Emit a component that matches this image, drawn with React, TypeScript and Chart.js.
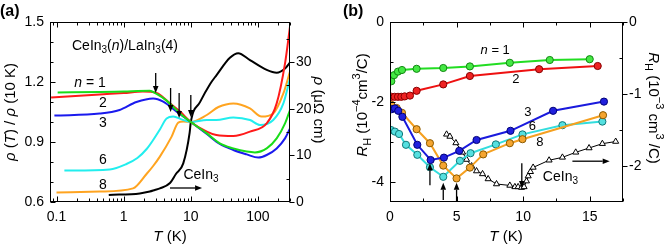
import React, { useEffect, useRef } from "react";
import { Chart, registerables } from "chart.js";
Chart.register(...registerables);

const FONT = "'Liberation Sans', Arial, Helvetica, sans-serif";
const TF = 14;

// ---------- Panel (a): rho(T)/rho(10K) vs T (log) ----------
const A_T_n1 = [0.104, 0.44, 1.0, 2.45, 3.0, 4.36, 6.9, 10, 17.3, 27, 43, 68, 90, 135, 190, 253, 300];
const A_R_n1 = [1.148, 1.15, 1.153, 1.156, 1.143, 1.107, 1.043, 1.0, 0.943, 0.893, 0.868, 0.852, 0.848, 0.868, 0.918, 0.993, 1.06];
const A_T_n2 = [0.083, 0.44, 1.0, 1.94, 3.09, 4.88, 6.9, 10, 17.3, 24, 43, 76, 135, 190, 253, 300];
const A_R_n2 = [1.122, 1.138, 1.145, 1.152, 1.145, 1.093, 1.052, 1.0, 0.952, 0.935, 0.93, 0.952, 0.993, 1.093, 1.293, 1.477];
const A_T_n3 = [0.093, 0.44, 0.87, 1.55, 2.75, 3.88, 6.15, 10, 17.3, 27, 43, 68, 101, 135, 190, 253, 300];
const A_R_n3 = [1.032, 1.042, 1.06, 1.1, 1.118, 1.102, 1.052, 1.0, 0.94, 0.89, 0.86, 0.838, 0.822, 0.835, 0.868, 0.918, 0.968];
const A_T_n6 = [0.131, 0.62, 1.1, 1.6, 2.2, 2.75, 3.5, 4.36, 5.47, 7.3, 10, 17.3, 24, 43, 76, 107, 169, 239, 300];
const A_R_n6 = [0.757, 0.763, 0.79, 0.82, 0.865, 0.91, 0.965, 1.018, 1.027, 1.013, 1.0, 1.01, 1.01, 1.023, 1.01, 0.985, 1.01, 1.093, 1.218];
const A_T_n8 = [0.1, 0.44, 1.38, 2.19, 2.75, 3.46, 5.18, 6.5, 7.72, 10, 17.3, 25.8, 43, 76, 113, 169, 239, 300];
const A_R_n8 = [0.647, 0.652, 0.668, 0.74, 0.78, 0.827, 0.927, 0.997, 1.002, 1.0, 1.035, 1.075, 1.093, 1.068, 1.027, 1.043, 1.143, 1.252];
// CeIn3 in micro-ohm cm (right axis)
const A_T_ce = [0.6, 1.74, 2.45, 2.91, 3.46, 4.9, 6.0, 7.72, 9.6, 10, 13.7, 19.4, 24.2, 38.2, 50.8, 76, 135, 190, 253, 300];
const A_R_ce = [1.5, 1.84, 2.23, 2.57, 2.91, 4.07, 6.0, 8.27, 14.8, 17.14, 21.4, 25.3, 27.2, 30.9, 31.9, 30.4, 28.3, 27.7, 28.6, 29.9];

const A_XTICKS = [0.1, 1, 10, 100];
const A_YTICKS = [0.6, 0.9, 1.2, 1.5];
const A_YTICKS_MINOR = [0.7, 0.8, 1.0, 1.1, 1.3, 1.4];
const A_RTICKS = [0, 10, 20, 30];
const A_RTICKS_MINOR = [5, 15, 25, 35];
// arrows marking T_max: T, start, end (rho/rho10K)
const A_ARROW_T = [3.0, 5.0, 6.7, 10];
const A_ARROW_FROM = [1.245, 1.17, 1.145, 1.135];
const A_ARROW_TO = [1.145, 1.05, 1.02, 1.025];

// ---------- Panel (b): R_H vs T ----------
const B_T_n1 = [0.1, 0.3, 0.6, 0.9, 2, 4, 6, 9, 12, 15];
const B_R_n1 = [-1.48, -1.33, -1.24, -1.2, -1.17, -1.15, -1.11, -1.02, -0.95, -0.93];
const B_T_n2 = [0.1, 0.35, 0.6, 0.85, 1.1, 1.5, 2, 4, 6, 11.2, 15.6];
const B_R_n2 = [-1.87, -1.87, -1.87, -1.87, -1.86, -1.84, -1.72, -1.56, -1.35, -1.18, -1.1];
const B_T_n3 = [0.13, 0.37, 0.62, 0.93, 2.05, 3.05, 4.05, 5.2, 6.5, 9.05, 12.25, 16.07];
const B_R_n3 = [-2.18, -2.16, -2.22, -2.37, -3.07, -3.45, -3.39, -3.22, -2.95, -2.72, -2.22, -1.99];
const B_T_n6 = [0.08, 0.37, 0.68, 1.2, 2.05, 3, 4, 5.25, 6.05, 7.95, 9.95, 12.95, 15.95];
const B_R_n6 = [-2.7, -2.74, -2.8, -3.07, -3.32, -3.63, -3.87, -3.47, -3.28, -3.06, -2.81, -2.58, -2.49];
const B_T_n8 = [0.1, 0.5, 0.9, 2, 3, 4, 5, 6, 7, 9, 9.95, 16];
const B_R_n8 = [-2.07, -2.15, -2.27, -2.68, -3.03, -3.59, -3.91, -3.64, -3.31, -3.03, -2.93, -2.33];
// CeIn3 on right axis (10^-3 cm^3/C)
const B_T_ce = [4.25, 4.5, 4.95, 5.45, 5.75, 6.13, 6.5, 6.95, 7.37, 8.0, 9.0, 9.38, 9.62, 9.88, 10.07, 10.25, 10.38, 10.55, 10.75, 11.95, 12.95, 13.95, 14.95, 15.95, 16.95];
const B_R_ce = [-1.56, -1.59, -1.68, -1.81, -1.91, -2.0, -2.07, -2.11, -2.18, -2.25, -2.27, -2.29, -2.29, -2.3, -2.29, -2.21, -2.14, -2.08, -2.02, -1.92, -1.88, -1.81, -1.75, -1.69, -1.66];

const B_XTICKS = [0, 5, 10, 15];
const B_XTICKS_MINOR = [2.5, 7.5, 12.5, 17.5];
const B_YTICKS = [0, -2, -4];
const B_YTICKS_MINOR = [-1, -3];
const B_RTICKS = [0, -1, -2];
const B_RTICKS_MINOR = [-0.5, -1.5];
const B_UP_T = [3, 4, 5];
const B_UP_FROM = [-4.08, -4.45, -4.5];
const B_UP_TO = [-3.53, -4.02, -4.02];

type Seg = { t: string; it?: boolean; sub?: boolean; sup?: boolean; b?: boolean };

function segFont(s: Seg, size: number) {
  const sz = s.sub || s.sup ? Math.round(size * 0.72) : size;
  return `${s.it ? "italic " : ""}${s.b ? "bold " : ""}${sz}px ${FONT}`;
}
function drawRich(ctx: CanvasRenderingContext2D, segs: Seg[], x: number, y: number, size: number, align = "center", rot = 0) {
  ctx.save();
  ctx.translate(x, y);
  ctx.rotate(rot);
  let w = 0;
  for (const s of segs) {
    ctx.font = segFont(s, size);
    w += ctx.measureText(s.t).width;
  }
  let cx = align === "center" ? -w / 2 : align === "right" ? -w : 0;
  ctx.textBaseline = "middle";
  ctx.textAlign = "left";
  ctx.fillStyle = "#000";
  for (const s of segs) {
    ctx.font = segFont(s, size);
    const dy = s.sub ? size * 0.3 : s.sup ? -size * 0.38 : 0;
    ctx.fillText(s.t, cx, dy);
    cx += ctx.measureText(s.t).width;
  }
  ctx.restore();
}
function drawArrow(ctx: CanvasRenderingContext2D, x0: number, y0: number, x1: number, y1: number) {
  const ang = Math.atan2(y1 - y0, x1 - x0);
  const hl = 7, hw = 2.8;
  const c = Math.cos(ang), s = Math.sin(ang);
  ctx.save();
  ctx.strokeStyle = "#000";
  ctx.fillStyle = "#000";
  ctx.lineWidth = 1.3;
  ctx.beginPath();
  ctx.moveTo(x0, y0);
  ctx.lineTo(x1 - hl * c, y1 - hl * s);
  ctx.stroke();
  ctx.beginPath();
  ctx.moveTo(x1, y1);
  ctx.lineTo(x1 - hl * c + hw * s, y1 - hl * s - hw * c);
  ctx.lineTo(x1 - hl * c - hw * s, y1 - hl * s + hw * c);
  ctx.closePath();
  ctx.fill();
  ctx.restore();
}

type TickSpec = { side: "top" | "bottom" | "left" | "right"; scale: string; major: number[]; minor: number[]; majorOut?: boolean };
function drawFrameTicks(chart: any, specs: TickSpec[]) {
  const ctx: CanvasRenderingContext2D = chart.ctx;
  const a = chart.chartArea;
  const L = Math.round(a.left) + 0.5, R = Math.round(a.right) - 0.5, T = Math.round(a.top) + 0.5, B = Math.round(a.bottom) - 0.5;
  ctx.save();
  ctx.strokeStyle = "#000";
  ctx.lineWidth = 1;
  ctx.strokeRect(L, T, R - L, B - T);
  for (const sp of specs) {
    const sc = chart.scales[sp.scale];
    const all = [...sp.major.map((v) => [v, 1]), ...sp.minor.map((v) => [v, 0])];
    for (const [v, maj] of all) {
      const p = Math.round(sc.getPixelForValue(v)) + 0.5;
      if (p < Math.min(L, T) - 1) continue;
      const len = maj ? 5 : 3;
      const out = maj && sp.majorOut;
      ctx.beginPath();
      if (sp.side === "bottom") { if (p < L - 1 || p > R + 1) continue; ctx.moveTo(p, B); ctx.lineTo(p, B - len); }
      if (sp.side === "top") { if (p < L - 1 || p > R + 1) continue; ctx.moveTo(p, T); ctx.lineTo(p, T + len); }
      if (sp.side === "left") { if (p < T - 1 || p > B + 1) continue; ctx.moveTo(L, p); ctx.lineTo(L + len, p); }
      if (sp.side === "right") { if (p < T - 1 || p > B + 1) continue; ctx.moveTo(R, p); ctx.lineTo(out ? R + len : R - len, p); }
      ctx.stroke();
    }
  }
  ctx.restore();
}

function logMinor(min: number, max: number) {
  const out: number[] = [];
  for (let d = -2; d <= 3; d++) {
    for (let k = 2; k <= 9; k++) {
      const v = k * Math.pow(10, d);
      if (v >= min && v <= max) out.push(v);
    }
  }
  return out;
}

const pts = (xs: number[], ys: number[]) => xs.map((x, i) => ({ x, y: ys[i] }));

const tickFont = { family: FONT, size: TF };

function baseOptions() {
  return {
    responsive: false,
    animation: false as const,
    devicePixelRatio: 1,
    events: [] as any[],
    layout: { padding: { top: 22, left: 0, right: 0, bottom: 0 } },
    plugins: { legend: { display: false }, tooltip: { enabled: false } },
  };
}

function PanelA() {
  const ref = useRef<HTMLCanvasElement>(null);
  useEffect(() => {
    const line = (xs: number[], ys: number[], color: string, axis = "y") => ({
      data: pts(xs, ys),
      borderColor: color,
      borderWidth: 2,
      pointRadius: 0,
      cubicInterpolationMode: "monotone" as const,
      yAxisID: axis,
    });
    const minorX = logMinor(0.08, 300);
    const plugin = {
      id: "decorA",
      afterDatasetsDraw(chart: any) {
        const ctx = chart.ctx as CanvasRenderingContext2D;
        const x = chart.scales.x, y = chart.scales.y;
        drawFrameTicks(chart, [
          { side: "bottom", scale: "x", major: A_XTICKS, minor: minorX },
          { side: "top", scale: "x", major: A_XTICKS, minor: minorX },
          { side: "left", scale: "y", major: A_YTICKS, minor: A_YTICKS_MINOR },
          { side: "right", scale: "yR", major: A_RTICKS, minor: A_RTICKS_MINOR, majorOut: true },
        ]);
        const X = (v: number) => x.getPixelForValue(v);
        const Y = (v: number) => y.getPixelForValue(v);
        drawRich(ctx, [{ t: "CeIn" }, { t: "3", sub: true }, { t: "(" }, { t: "n", it: true }, { t: ")/LaIn" }, { t: "3", sub: true }, { t: "(4)" }], X(0.17), Y(1.38), 14, "left");
        drawRich(ctx, [{ t: "n", it: true }, { t: " = 1" }], X(0.315), Y(1.195), 14);
        drawRich(ctx, [{ t: "2" }], X(0.49), Y(1.095), 14);
        drawRich(ctx, [{ t: "3" }], X(0.49), Y(0.995), 14);
        drawRich(ctx, [{ t: "6" }], X(0.49), Y(0.81), 14);
        drawRich(ctx, [{ t: "8" }], X(0.49), Y(0.685), 14);
        drawRich(ctx, [{ t: "CeIn" }, { t: "3", sub: true }], X(14.2), Y(0.735), 14);
        drawArrow(ctx, X(4.9), Y(0.67), X(14.7), Y(0.67));
        A_ARROW_T.forEach((t, i) => drawArrow(ctx, X(t), Y(A_ARROW_FROM[i]), X(t), Y(A_ARROW_TO[i])));
        // titles
        drawRich(ctx, [{ t: "(a)", b: true }], 0, 12, 16, "left");
        drawRich(ctx, [{ t: "ρ", it: true }, { t: " (" }, { t: "T", it: true }, { t: ") / " }, { t: "ρ", it: true }, { t: " (10 K)" }], 11, 112, 15, "center", -Math.PI / 2);
        drawRich(ctx, [{ t: "T", it: true }, { t: " (K)" }], 170, 237, 15);
        drawRich(ctx, [{ t: "ρ", it: true }, { t: " (μΩ cm)" }], 318, 110, 15, "center", Math.PI / 2);
      },
    };
    const chart = new Chart(ref.current!, {
      type: "line",
      data: {
        datasets: [
          line(A_T_n1, A_R_n1, "#19dd19"),
          line(A_T_n2, A_R_n2, "#ff1a1a"),
          line(A_T_n3, A_R_n3, "#1a1aee"),
          line(A_T_n6, A_R_n6, "#22eeee"),
          line(A_T_n8, A_R_n8, "#ffa420"),
          line(A_T_ce, A_R_ce, "#000000", "yR"),
        ],
      },
      options: {
        ...baseOptions(),
        scales: {
          x: {
            type: "logarithmic",
            min: 0.08,
            max: 300,
            grid: { display: false, drawTicks: false },
            border: { display: false },
            ticks: { font: tickFont, color: "#000", padding: 7, autoSkip: false, maxRotation: 0, callback: (v: any) => String(v) },
            afterBuildTicks: (s: any) => { s.ticks = A_XTICKS.map((v) => ({ value: v })); },
            afterFit: (s: any) => { s.height = 44; s.paddingLeft = 0; s.paddingRight = 0; },
          },
          y: {
            type: "linear",
            position: "left",
            min: 0.6,
            max: 1.5,
            grid: { display: false, drawTicks: false },
            border: { display: false },
            ticks: { font: tickFont, color: "#000", padding: 6, callback: (v: any) => Number(v).toFixed(1) },
            afterBuildTicks: (s: any) => { s.ticks = A_YTICKS.map((v) => ({ value: v })); },
            afterFit: (s: any) => { s.width = 50; s.paddingTop = 0; s.paddingBottom = 0; },
          },
          yR: {
            type: "linear",
            position: "right",
            min: 0,
            max: 38.57,
            grid: { display: false, drawTicks: false },
            border: { display: false },
            ticks: { font: tickFont, color: "#000", padding: 6, callback: (v: any) => String(v) },
            afterBuildTicks: (s: any) => { s.ticks = A_RTICKS.map((v) => ({ value: v })); },
            afterFit: (s: any) => { s.width = 40; s.paddingTop = 0; s.paddingBottom = 0; },
          },
        },
      } as any,
      plugins: [plugin],
    });
    return () => chart.destroy();
  }, []);
  return <canvas ref={ref} width={330} height={246} style={{ position: "absolute", left: 0, top: 0, width: 330, height: 246 }} />;
}

function PanelB() {
  const ref = useRef<HTMLCanvasElement>(null);
  useEffect(() => {
    const ser = (xs: number[], ys: number[], line: string, fill: string, edge: string) => ({
      data: pts(xs, ys),
      borderColor: line,
      borderWidth: 2,
      pointRadius: 3.6,
      pointBackgroundColor: fill,
      pointBorderColor: edge,
      pointBorderWidth: 1,
      tension: 0,
      yAxisID: "y",
    });
    const plugin = {
      id: "decorB",
      afterDatasetsDraw(chart: any) {
        const ctx = chart.ctx as CanvasRenderingContext2D;
        const x = chart.scales.x, y = chart.scales.y;
        drawFrameTicks(chart, [
          { side: "bottom", scale: "x", major: B_XTICKS, minor: B_XTICKS_MINOR },
          { side: "top", scale: "x", major: B_XTICKS, minor: B_XTICKS_MINOR },
          { side: "left", scale: "y", major: B_YTICKS, minor: B_YTICKS_MINOR },
          { side: "right", scale: "yR", major: B_RTICKS, minor: B_RTICKS_MINOR, majorOut: true },
        ]);
        const X = (v: number) => x.getPixelForValue(v);
        const Y = (v: number) => y.getPixelForValue(v);
        drawRich(ctx, [{ t: "n", it: true }, { t: " = 1" }], X(7.9), Y(-0.7), 13);
        drawRich(ctx, [{ t: "2" }], X(9.45), Y(-1.43), 13);
        drawRich(ctx, [{ t: "3" }], X(10.35), Y(-2.25), 13);
        drawRich(ctx, [{ t: "6" }], X(10.7), Y(-2.6), 13);
        drawRich(ctx, [{ t: "8" }], X(11.25), Y(-3.0), 13);
        drawRich(ctx, [{ t: "CeIn" }, { t: "3", sub: true }], X(12.8), Y(-3.88), 14);
        drawArrow(ctx, X(13.7), Y(-3.48), X(16.5), Y(-3.48));
        B_UP_T.forEach((t, i) => drawArrow(ctx, X(t), Y(B_UP_FROM[i]), X(t), Y(B_UP_TO[i])));
        drawArrow(ctx, X(9.9), Y(-3.53), X(9.9), Y(-4.15));
        drawRich(ctx, [{ t: "(b)", b: true }], 13, 12, 16, "left");
        drawRich(ctx, [{ t: "R", it: true }, { t: "H", sub: true }, { t: " (10" }, { t: "−4", sup: true }, { t: "cm" }, { t: "3", sup: true }, { t: "/C)" }], 33, 105, 15, "center", -Math.PI / 2);
        drawRich(ctx, [{ t: "R", it: true }, { t: "H", sub: true }, { t: " (10" }, { t: "−3", sup: true }, { t: " cm" }, { t: "3", sup: true }, { t: " /C)" }], 323, 108, 15, "center", Math.PI / 2);
        drawRich(ctx, [{ t: "T", it: true }, { t: " (K)" }], 176, 237, 15);
      },
    };
    const chart = new Chart(ref.current!, {
      type: "line",
      data: {
        datasets: [
          ser(B_T_n1, B_R_n1, "#22dd22", "#44e844", "#118811"),
          ser(B_T_n2, B_R_n2, "#ee1111", "#ee2222", "#880000"),
          ser(B_T_n3, B_R_n3, "#1a1add", "#2020dd", "#000077"),
          ser(B_T_n8, B_R_n8, "#f5a020", "#f5a530", "#8a5a00"),
          ser(B_T_n6, B_R_n6, "#33dddd", "#55e0e0", "#117777"),
          {
            data: pts(B_T_ce, B_R_ce),
            borderColor: "#000",
            borderWidth: 1,
            pointStyle: "triangle",
            pointRadius: 3.5,
            pointBackgroundColor: "#fff",
            pointBorderColor: "#000",
            pointBorderWidth: 1,
            tension: 0,
            yAxisID: "yR",
          },
        ],
      },
      options: {
        ...baseOptions(),
        scales: {
          x: {
            type: "linear",
            min: 0,
            max: 17.5,
            grid: { display: false, drawTicks: false },
            border: { display: false },
            ticks: { font: tickFont, color: "#000", padding: 7, autoSkip: false, maxRotation: 0, callback: (v: any) => String(v) },
            afterBuildTicks: (s: any) => { s.ticks = B_XTICKS.map((v) => ({ value: v })); },
            afterFit: (s: any) => { s.height = 44; s.paddingLeft = 0; s.paddingRight = 0; },
          },
          y: {
            type: "linear",
            position: "left",
            min: -4.5,
            max: 0,
            grid: { display: false, drawTicks: false },
            border: { display: false },
            ticks: { font: tickFont, color: "#000", padding: 6, callback: (v: any) => String(v) },
            afterBuildTicks: (s: any) => { s.ticks = B_YTICKS.map((v) => ({ value: v })); },
            afterFit: (s: any) => { s.width = 60; s.paddingTop = 0; s.paddingBottom = 0; },
          },
          yR: {
            type: "linear",
            position: "right",
            min: -2.5,
            max: 0,
            grid: { display: false, drawTicks: false },
            border: { display: false },
            ticks: { font: tickFont, color: "#000", padding: 6, callback: (v: any) => String(v) },
            afterBuildTicks: (s: any) => { s.ticks = B_RTICKS.map((v) => ({ value: v })); },
            afterFit: (s: any) => { s.width = 42; s.paddingTop = 0; s.paddingBottom = 0; },
          },
        },
      } as any,
      plugins: [plugin],
    });
    return () => chart.destroy();
  }, []);
  return <canvas ref={ref} width={335} height={246} style={{ position: "absolute", left: 330, top: 0, width: 335, height: 246 }} />;
}

export default function App() {
  return (
    <div style={{ position: "absolute", left: 0, top: 0, width: 665, height: 246, background: "#fff" }}>
      <PanelA />
      <PanelB />
    </div>
  );
}
